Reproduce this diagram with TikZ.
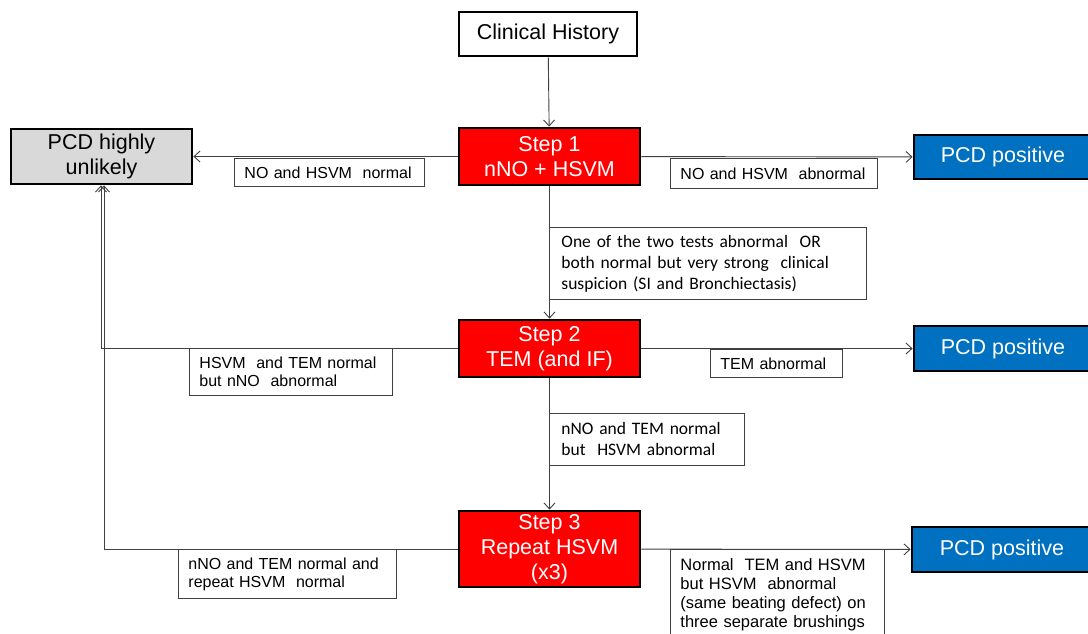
\documentclass[tikz,border=0pt]{standalone}
\usepackage{fontspec}
\setmainfont{Liberation Sans}
\newfontfamily\calibri{Carlito}
\usetikzlibrary{arrows.meta}
\definecolor{stepred}{HTML}{FF0000}
\definecolor{posblue}{HTML}{0070C0}
\definecolor{unlgray}{HTML}{D9D9D9}
\definecolor{linegray}{HTML}{404040}
\begin{document}
\begin{tikzpicture}[x=1pt,y=-1pt,
  mainbox/.style={draw=black, line width=2.8pt, align=center, inner sep=0pt,
    font=\fontsize{21.5}{25}\selectfont},
  stepbox/.style={mainbox, fill=stepred, text=white},
  posbox/.style={mainbox, fill=posblue, text=white},
  lbl/.style={draw=linegray, line width=0.9pt, fill=white, align=left,
    anchor=north west, inner xsep=10pt, inner ysep=0pt,
    font=\fontsize{16}{18}\selectfont},
  clbl/.style={lbl, inner xsep=12pt, font=\calibri\fontsize{17.5}{21}\selectfont},
  conn/.style={draw=linegray, line width=0.9pt,
    -{Straight Barb[length=6pt,width=11pt]}}]
\useasboundingbox (0,0) rectangle (1088,633);
\clip (0,0) rectangle (1088,633);

% main boxes
\node[mainbox, fill=white, minimum width=178pt, minimum height=44pt] (clin) at (548,34) {Clinical History};
\node[stepbox, minimum width=181pt, minimum height=57pt] (s1) at (549.5,156.5) {Step 1\\nNO + HSVM};
\node[mainbox, fill=unlgray, minimum width=181pt, minimum height=55pt] (unl) at (101.5,156.5) {PCD highly\\unlikely};
\node[posbox, minimum width=178pt, minimum height=44pt] (pos1) at (1003,157) {PCD positive};
\node[stepbox, minimum width=181pt, minimum height=57pt] (s2) at (549.5,348.5) {Step 2\\TEM (and IF)};
\node[posbox, minimum width=178pt, minimum height=45pt] (pos2) at (1003,348.5) {PCD positive};
\node[stepbox, minimum width=181pt, minimum height=76pt] (s3) at (549.5,549) {Step 3\\Repeat HSVM\\(x3)};
\node[posbox, minimum width=180pt, minimum height=45pt] (pos3) at (1002,549.5) {PCD positive};

% corner points of the return paths
\coordinate (c2) at (101,348.5);
\coordinate (c3) at (104,549);

% connectors
\draw[conn] (clin) -- (s1);
\draw[conn] (s1) -- (unl);
\draw[conn] (s1) -- (pos1);
\draw[conn] (s1) -- (s2);
\draw[conn] (s2.west) -- (c2) -- (c2 |- unl.south);
\draw[conn] (s2) -- (pos2);
\draw[conn] (s2) -- (s3);
\draw[conn] (s3.west) -- (c3) -- (c3 |- unl.south);
\draw[conn] (s3) -- (pos3);

% condition labels
\node[lbl, text width=170pt, minimum height=28pt] (l1) at (234,158) {NO and HSVM\ \ normal};
\node[lbl, text width=187pt, minimum height=30pt] (l2) at (670,158) {NO and HSVM\ \ abnormal};
\node[clbl, text width=293pt, minimum height=72pt] (l3) at (549,227) {One of the two tests abnormal\ \ OR\\both\ normal\ but very strong\ \ clinical\\suspicion (SI and Bronchiectasis)};
\node[lbl, text width=183pt, minimum height=47pt] (l4) at (189,348) {HSVM\ \ and TEM normal\\but nNO\ \ abnormal};
\node[lbl, text width=112pt, minimum height=28pt] (l5) at (710,349) {TEM abnormal};
\node[clbl, text width=171pt, minimum height=52pt] (l6) at (549,413) {nNO and TEM normal\\but\ \ HSVM abnormal};
\node[lbl, text width=198pt, minimum height=49pt] (l7) at (178,549) {nNO and TEM normal and\\repeat HSVM\ \ normal};
\node[lbl, text width=194pt, minimum height=91pt, font=\fontsize{16.5}{19}\selectfont] (l8) at (670,549) {Normal\ \ TEM and HSVM\\but HSVM\ \ abnormal\\(same beating defect) on\\three separate brushings};
\end{tikzpicture}
\end{document}
